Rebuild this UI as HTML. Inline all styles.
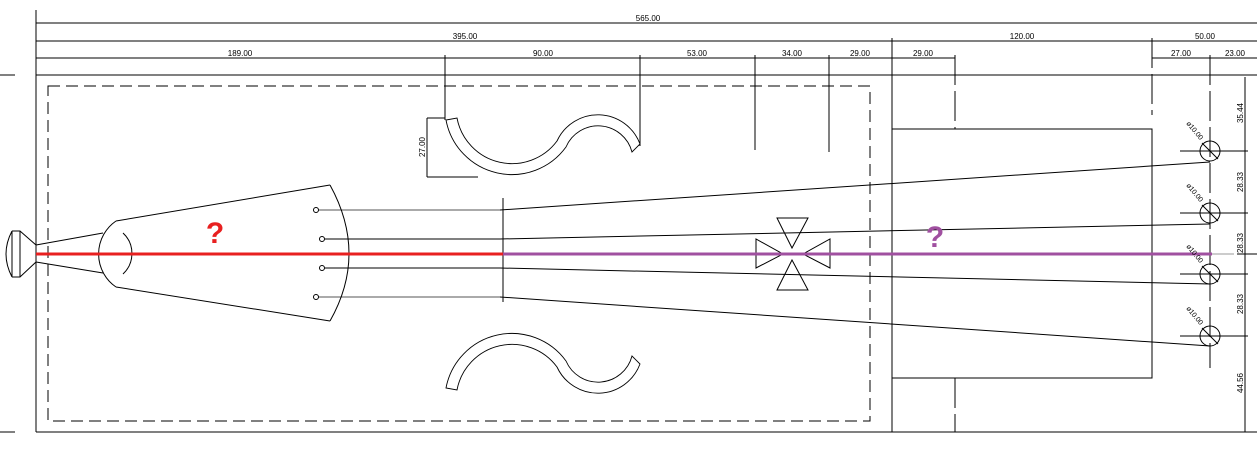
<!DOCTYPE html>
<html><head><style>
html,body{margin:0;padding:0;background:#fff;}
svg{display:block;font-family:"Liberation Sans",sans-serif;}
</style></head><body>
<svg width="1257" height="470" viewBox="0 0 1257 470" xmlns="http://www.w3.org/2000/svg">
<g stroke="#000" stroke-width="1" fill="none">
<line x1="36" y1="23" x2="1257" y2="23"/>
<line x1="36" y1="41" x2="1257" y2="41"/>
<line x1="36" y1="58" x2="892" y2="58"/>
<line x1="892" y1="58" x2="955" y2="58"/>
<line x1="1152" y1="58" x2="1257" y2="58"/>
<line x1="0" y1="75" x2="15" y2="75"/>
<line x1="36" y1="75" x2="1257" y2="75"/>
<line x1="0" y1="432" x2="15" y2="432"/>
<line x1="36" y1="432" x2="1257" y2="432"/>
<line x1="36" y1="10" x2="36" y2="432"/>
<line x1="892" y1="38" x2="892" y2="432"/>
<line x1="445" y1="55" x2="445" y2="120"/>
<line x1="640" y1="55" x2="640" y2="146"/>
<line x1="755" y1="55" x2="755" y2="150"/>
<line x1="829" y1="55" x2="829" y2="152"/>
<line x1="955" y1="55" x2="955" y2="129" stroke-dasharray="30 6"/>
<line x1="955" y1="378" x2="955" y2="432" stroke-dasharray="30 6"/>
<line x1="1152" y1="38" x2="1152" y2="115" stroke-dasharray="30 6"/>
<line x1="1210" y1="55" x2="1210" y2="368" stroke-dasharray="30 6"/>
<rect x="48" y="86" width="822" height="335" stroke-dasharray="12 6"/>
<rect x="892" y="129" width="260" height="249"/>
<line x1="1245" y1="77" x2="1245" y2="432"/>
<line x1="1237" y1="254" x2="1257" y2="254"/>
<line x1="427" y1="118" x2="427" y2="177"/>
<line x1="427" y1="118" x2="445" y2="118"/>
<line x1="427" y1="177" x2="478" y2="177"/>
<g>
<circle cx="1210" cy="151" r="10"/><line x1="1180" y1="151" x2="1248" y2="151"/><line x1="1202" y1="143" x2="1218" y2="159"/>
<circle cx="1210" cy="213" r="10"/><line x1="1180" y1="213" x2="1248" y2="213"/><line x1="1202" y1="205" x2="1218" y2="221"/>
<circle cx="1210" cy="274" r="10"/><line x1="1180" y1="274" x2="1248" y2="274"/><line x1="1202" y1="266" x2="1218" y2="282"/>
<circle cx="1210" cy="336" r="10"/><line x1="1180" y1="336" x2="1248" y2="336"/><line x1="1202" y1="328" x2="1218" y2="344"/>
</g>
<line x1="318" y1="210" x2="500" y2="210" stroke="#555"/>
<line x1="500" y1="210" x2="1210" y2="162"/>
<line x1="325" y1="239" x2="500" y2="239"/>
<line x1="500" y1="239" x2="1210" y2="224"/>
<line x1="325" y1="268" x2="500" y2="268"/>
<line x1="500" y1="268" x2="1210" y2="284"/>
<line x1="318" y1="297" x2="500" y2="297" stroke="#555"/>
<line x1="500" y1="297" x2="1210" y2="346"/>
<line x1="503" y1="198" x2="503" y2="302"/>
<circle cx="316" cy="210" r="2.5"/><circle cx="322" cy="239" r="2.5"/><circle cx="322" cy="268" r="2.5"/><circle cx="316" cy="297" r="2.5"/>
<path d="M12,231 L20,231 L36,245 M12,277 L20,277 L36,262 M12,231 Q0,254 12,277 M12,231 L12,277 M20,231 L20,277"/>
<line x1="36" y1="245" x2="103" y2="233"/>
<line x1="36" y1="262" x2="103" y2="273"/>
<path d="M116,221 A40,40 0 0 0 116,287"/>
<path d="M123,233 A28,28 0 0 1 123,274"/>
<line x1="116" y1="221" x2="330" y2="185"/>
<line x1="116" y1="287" x2="330" y2="321"/>
<path d="M330,185 Q368,254 330,321"/>
<path d="M446,120 A67,67 0 0 0 566,147 A35,35 0 0 1 632,152 L640,144 A45,45 0 0 0 557,141 A56,56 0 0 1 457,118 Z" stroke-width="0.9"/>
<path d="M446,388 A67,67 0 0 1 566,361 A35,35 0 0 0 632,356 L640,364 A45,45 0 0 1 557,367 A56,56 0 0 0 457,390 Z" stroke-width="0.9"/>
<path d="M777,218 L808,218 L792,248 Z M777,290 L808,290 L792,260 Z M756,239 L756,268 L783,254 Z M830,239 L830,268 L803,254 Z"/>
</g>
<line x1="36" y1="254" x2="503" y2="254" stroke="#e82020" stroke-width="3"/>
<line x1="503" y1="254" x2="1212" y2="254" stroke="#a050a0" stroke-width="3"/>
<line x1="1212" y1="254" x2="1234" y2="254" stroke="#999" stroke-width="1"/>
<text x="215" y="243" fill="#e82020" font-size="30" font-weight="bold" text-anchor="middle">?</text>
<text x="935" y="247" fill="#a050a0" font-size="30" font-weight="bold" text-anchor="middle">?</text>
<g font-size="8" fill="#000" text-anchor="middle">
<text x="648" y="21">565.00</text>
<text x="465" y="39">395.00</text>
<text x="1022" y="39">120.00</text>
<text x="1205" y="39">50.00</text>
<text x="240" y="56">189.00</text>
<text x="543" y="56">90.00</text>
<text x="697" y="56">53.00</text>
<text x="792" y="56">34.00</text>
<text x="860" y="56">29.00</text>
<text x="923" y="56">29.00</text>
<text x="1181" y="56">27.00</text>
<text x="1235" y="56">23.00</text>
<text transform="translate(425,147) rotate(-90)">27.00</text>
<text transform="translate(1243,113) rotate(-90)">35.44</text>
<text transform="translate(1243,182) rotate(-90)">28.33</text>
<text transform="translate(1243,243) rotate(-90)">28.33</text>
<text transform="translate(1243,304) rotate(-90)">28.33</text>
<text transform="translate(1243,383) rotate(-90)">44.56</text>
<text font-size="7" transform="translate(1193,132) rotate(50)">ø10.00</text>
<text font-size="7" transform="translate(1193,194) rotate(50)">ø10.00</text>
<text font-size="7" transform="translate(1193,255) rotate(50)">ø10.00</text>
<text font-size="7" transform="translate(1193,317) rotate(50)">ø10.00</text>
</g>
</svg>
</body></html>
